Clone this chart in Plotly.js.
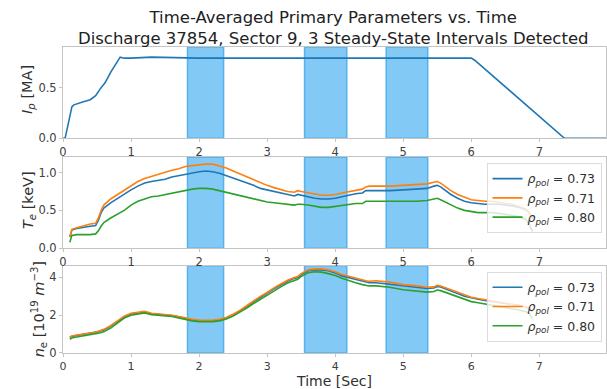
<!DOCTYPE html>
<html>
<head>
<meta charset="utf-8">
<script src="https://cdn.plot.ly/plotly-3.0.1.min.js"></script>
<style>html,body{margin:0;padding:0;background:#fff}#chart{width:607px;height:389px}</style>
</head>
<body>
<div id="chart"></div>
<script>
// ---- data ----
const tIp = [0, 0.03, 0.07, 0.1, 0.13, 0.16, 0.22, 0.3, 0.4, 0.48, 0.55, 0.62, 0.7, 0.78, 0.84, 0.9, 1.0, 1.3, 2.0, 3.0, 4.0, 5.0, 5.5, 6.0, 6.05, 7.37, 8.0];
const ip  = [0, 0.0, 0.12, 0.22, 0.31, 0.33, 0.34, 0.36, 0.38, 0.42, 0.49, 0.55, 0.65, 0.73, 0.80, 0.79, 0.79, 0.80, 0.79, 0.79, 0.79, 0.79, 0.79, 0.79, 0.77, 0.0, 0.0];

const tProf = [0.1, 0.13, 0.2, 0.3, 0.4, 0.48, 0.52, 0.56, 0.6, 0.7, 0.8, 0.9, 1.0, 1.1, 1.2, 1.3, 1.4, 1.5, 1.6, 1.7, 1.8, 1.9, 2.0, 2.1, 2.2, 2.3, 2.4, 2.5, 2.6, 2.7, 2.8, 2.9, 3.0, 3.1, 3.2, 3.3, 3.4, 3.45, 3.5, 3.6, 3.7, 3.8, 3.9, 4.0, 4.1, 4.2, 4.3, 4.4, 4.45, 4.5, 4.6, 4.8, 5.0, 5.2, 5.35, 5.45, 5.5, 5.55, 5.7, 5.8, 5.9, 6.0, 6.1, 6.2, 6.3, 6.4, 6.5, 6.6, 6.7, 6.8, 6.85, 6.9];

const te073 = [0.15, 0.24, 0.26, 0.28, 0.29, 0.30, 0.37, 0.47, 0.53, 0.60, 0.66, 0.71, 0.77, 0.82, 0.86, 0.88, 0.89, 0.91, 0.94, 0.96, 0.98, 1.00, 1.01, 1.02, 1.01, 0.99, 0.96, 0.93, 0.90, 0.86, 0.83, 0.79, 0.77, 0.74, 0.72, 0.70, 0.69, 0.71, 0.70, 0.68, 0.66, 0.65, 0.65, 0.66, 0.68, 0.70, 0.72, 0.73, 0.76, 0.76, 0.76, 0.76, 0.77, 0.78, 0.79, 0.82, 0.83, 0.81, 0.71, 0.66, 0.62, 0.60, 0.59, 0.58, 0.58, 0.58, 0.57, 0.56, 0.54, 0.51, 0.47, 0.39];
const te071 = [0.15, 0.25, 0.27, 0.30, 0.32, 0.33, 0.40, 0.50, 0.57, 0.65, 0.71, 0.77, 0.83, 0.88, 0.92, 0.95, 0.97, 1.00, 1.03, 1.05, 1.08, 1.09, 1.10, 1.11, 1.11, 1.09, 1.06, 1.02, 0.98, 0.94, 0.90, 0.86, 0.83, 0.80, 0.77, 0.75, 0.74, 0.76, 0.75, 0.73, 0.71, 0.70, 0.70, 0.71, 0.73, 0.75, 0.77, 0.78, 0.81, 0.82, 0.82, 0.82, 0.83, 0.84, 0.85, 0.87, 0.88, 0.86, 0.76, 0.71, 0.67, 0.64, 0.63, 0.62, 0.62, 0.61, 0.60, 0.58, 0.55, 0.52, 0.48, 0.40];
const te080 = [0.08, 0.17, 0.18, 0.18, 0.18, 0.19, 0.23, 0.29, 0.34, 0.40, 0.45, 0.50, 0.57, 0.62, 0.65, 0.68, 0.69, 0.71, 0.73, 0.75, 0.77, 0.78, 0.79, 0.79, 0.78, 0.76, 0.74, 0.72, 0.70, 0.68, 0.65, 0.63, 0.61, 0.60, 0.59, 0.58, 0.57, 0.58, 0.58, 0.57, 0.55, 0.54, 0.54, 0.55, 0.56, 0.57, 0.59, 0.59, 0.62, 0.62, 0.62, 0.62, 0.62, 0.62, 0.63, 0.65, 0.66, 0.64, 0.57, 0.53, 0.50, 0.48, 0.47, 0.47, 0.47, 0.46, 0.45, 0.44, 0.42, 0.38, 0.32, 0.22];

const ne071 = [0.85, 0.90, 0.95, 1.00, 1.05, 1.10, 1.15, 1.20, 1.25, 1.45, 1.70, 1.95, 2.10, 2.13, 2.20, 2.10, 2.07, 2.05, 2.00, 1.93, 1.85, 1.78, 1.74, 1.72, 1.73, 1.78, 1.88, 2.05, 2.25, 2.50, 2.75, 3.00, 3.20, 3.45, 3.65, 3.85, 4.00, 4.05, 4.20, 4.40, 4.45, 4.45, 4.40, 4.30, 4.15, 4.05, 3.95, 3.85, 3.82, 3.80, 3.82, 3.75, 3.62, 3.55, 3.48, 3.50, 3.58, 3.55, 3.35, 3.20, 3.05, 2.95, 2.88, 2.82, 2.78, 2.70, 2.65, 2.60, 2.55, 2.45, 2.38, 2.20];
const ne073 = [0.82, 0.88, 0.93, 0.98, 1.03, 1.08, 1.13, 1.18, 1.22, 1.42, 1.67, 1.92, 2.07, 2.10, 2.17, 2.08, 2.05, 2.03, 1.98, 1.91, 1.82, 1.75, 1.71, 1.70, 1.71, 1.76, 1.86, 2.02, 2.22, 2.46, 2.71, 2.95, 3.15, 3.40, 3.60, 3.80, 3.95, 4.00, 4.15, 4.35, 4.40, 4.40, 4.35, 4.24, 4.08, 3.98, 3.88, 3.78, 3.75, 3.72, 3.72, 3.65, 3.55, 3.48, 3.42, 3.44, 3.52, 3.49, 3.30, 3.15, 3.00, 2.90, 2.84, 2.78, 2.74, 2.67, 2.62, 2.57, 2.52, 2.42, 2.35, 2.18];
const ne080 = [0.72, 0.80, 0.85, 0.90, 0.95, 1.00, 1.05, 1.08, 1.12, 1.32, 1.58, 1.85, 2.00, 2.05, 2.12, 2.03, 2.00, 1.98, 1.93, 1.85, 1.76, 1.70, 1.66, 1.65, 1.66, 1.70, 1.80, 1.95, 2.15, 2.38, 2.62, 2.85, 3.05, 3.30, 3.50, 3.70, 3.85, 3.90, 4.05, 4.25, 4.30, 4.28, 4.20, 4.10, 3.95, 3.82, 3.72, 3.62, 3.58, 3.55, 3.55, 3.48, 3.35, 3.27, 3.22, 3.25, 3.33, 3.30, 3.10, 2.95, 2.82, 2.72, 2.66, 2.60, 2.55, 2.48, 2.42, 2.36, 2.28, 2.18, 2.10, 1.80];

const intervalStart = [1.83, 3.55, 4.75];
const intervalEnd   = [2.36, 4.17, 5.36];

const legendLabels = ['<i>ρ</i><sub><i>pol</i></sub> = 0.73', '<i>ρ</i><sub><i>pol</i></sub> = 0.71', '<i>ρ</i><sub><i>pol</i></sub> = 0.80'];
const xTicks = [0, 1, 2, 3, 4, 5, 6, 7];
const yLabels = ['<i>I<sub>p</sub></i> [MA]', '<i>T<sub>e</sub></i> [keV]', '<i>n</i><sub>e</sub> [10<sup>19</sup> <i>m</i><sup>−3</sup>]'];

// ---- styling ----
const C = ['#1f77b4', '#ff7f0e', '#2ca02c'];
const FONT = 'DejaVu Sans';
const LW = 1.6;

const traces = [
  {x: tIp, y: ip, xaxis: 'x3', yaxis: 'y3', mode: 'lines', line: {color: C[0], width: LW}, showlegend: false},
];
const teSeries = [te073, te071, te080];
const neSeries = [ne073, ne071, ne080];
teSeries.forEach((s, i) => traces.push({x: tProf, y: s, xaxis: 'x2', yaxis: 'y2', mode: 'lines', name: legendLabels[i], line: {color: C[i], width: LW}, legend: 'legend'}));
neSeries.forEach((s, i) => traces.push({x: tProf, y: s, xaxis: 'x', yaxis: 'y', mode: 'lines', name: legendLabels[i], line: {color: C[i], width: LW}, legend: 'legend2'}));

const shapes = [];
['', '2', '3'].forEach(k => {
  intervalStart.forEach((s, i) => {
    shapes.push({type: 'rect', xref: 'x' + k, yref: 'y' + k + ' domain', x0: s, x1: intervalEnd[i], y0: 0, y1: 1,
      fillcolor: '#82c9f5', line: {color: '#55b3ee', width: 1.5}, layer: 'below'});
  });
});

const yTitleFont = {family: FONT, size: 14.5, color: '#303030'};
const annotations = [
  {text: yLabels[0], xref: 'paper', yref: 'y3 domain', x: 0, y: 0.53, xshift: -35, textangle: -90, showarrow: false, xanchor: 'center', yanchor: 'middle', font: yTitleFont},
  {text: yLabels[1], xref: 'paper', yref: 'y2 domain', x: 0, y: 0.53, xshift: -34, textangle: -90, showarrow: false, xanchor: 'center', yanchor: 'middle', font: yTitleFont},
  {text: yLabels[2], xref: 'paper', yref: 'y domain', x: 0, y: 0.5, xshift: -24, textangle: -90, showarrow: false, xanchor: 'center', yanchor: 'middle', font: yTitleFont}
];

const axBase = {showline: true, mirror: true, linecolor: '#c4c4c4', linewidth: 1, ticks: 'outside', ticklen: 3, tickcolor: '#c4c4c4',
  showgrid: false, zeroline: false, tickfont: {family: FONT, size: 11.5, color: '#404040'}};
const xAx = a => Object.assign({}, axBase, {range: [0, 7.98], tickvals: xTicks, anchor: a}, a === 'y' ? {tickfont: {family: FONT, size: 11, color: '#404040'}, title: {text: 'Time [Sec]', font: {family: FONT, size: 14, color: '#303030'}, standoff: 3}} : {});

const layout = {
  width: 607, height: 389,
  margin: {l: 63, r: 1, t: 47, b: 36},
  paper_bgcolor: '#fff', plot_bgcolor: '#fff',
  title: {text: 'Time-Averaged Primary Parameters vs. Time<br>Discharge 37854, Sector 9, 3 Steady-State Intervals Detected',
    font: {family: FONT, size: 16.5, color: '#222'}, x: 0.549, xanchor: 'center', y: 0.9416, yanchor: 'middle', yref: 'container'},
  xaxis: xAx('y'), xaxis2: xAx('y2'), xaxis3: xAx('y3'),
  yaxis: Object.assign({}, axBase, {domain: [0, 0.2853], range: [0, 4.62], tickvals: [0, 2, 4], anchor: 'x'}),
  yaxis2: Object.assign({}, axBase, {domain: [0.3422, 0.6395], range: [0, 1.2], tickvals: [0, 0.5, 1.0], tickformat: '.1f', anchor: 'x2'}),
  yaxis3: Object.assign({}, axBase, {domain: [0.7016, 1], range: [0, 0.9], tickvals: [0, 0.5], tickformat: '.1f', anchor: 'x3'}),
  legend: {x: 0.78, y: 0.621, xanchor: 'left', yanchor: 'top', bgcolor: 'rgba(255,255,255,0.8)', bordercolor: '#dcdcdc', borderwidth: 1,
    font: {family: FONT, size: 12.5, color: '#303030'}},
  legend2: {x: 0.78, y: 0.266, xanchor: 'left', yanchor: 'top', bgcolor: 'rgba(255,255,255,0.8)', bordercolor: '#dcdcdc', borderwidth: 1,
    font: {family: FONT, size: 12.5, color: '#303030'}},
  shapes: shapes,
  annotations: annotations
};

Plotly.newPlot('chart', traces, layout, {displayModeBar: false, staticPlot: true});
</script>
</body>
</html>
